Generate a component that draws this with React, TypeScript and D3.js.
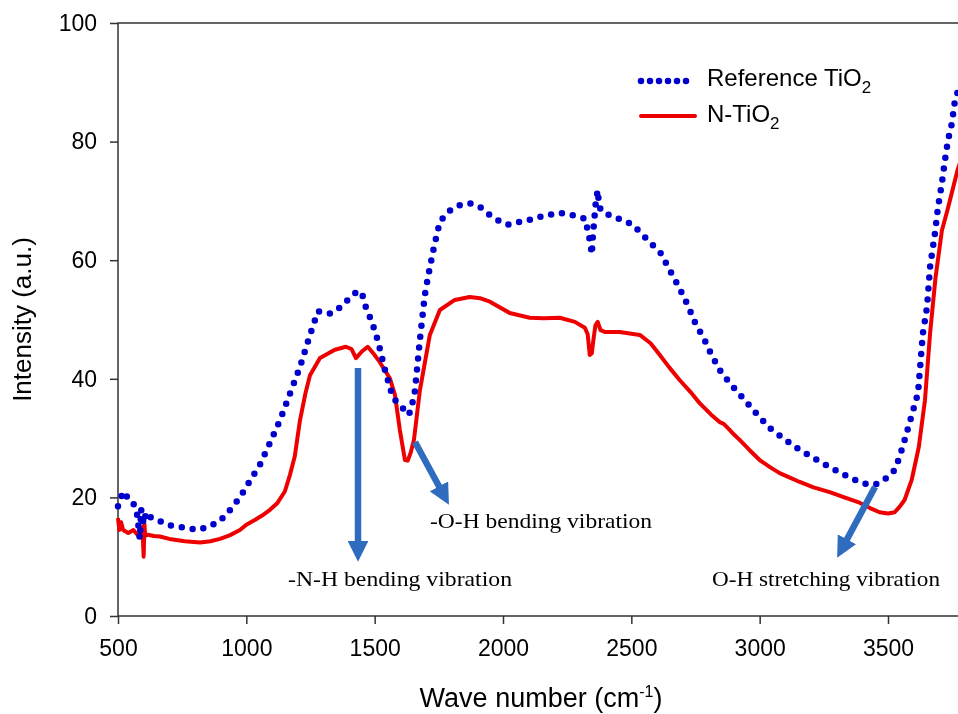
import * as d3 from "d3";
import { useEffect, useRef } from "react";

// Reference TiO2 (blue dotted)
const refWave = [500, 510, 527, 540, 560, 575, 585, 590, 600, 610, 630, 663, 700, 760, 810, 850, 897, 935, 975, 1010, 1053, 1090, 1131, 1170, 1209, 1245, 1279, 1305, 1325, 1350, 1384, 1410, 1435, 1450, 1462, 1490, 1512, 1540, 1571, 1610, 1633, 1645, 1657, 1676, 1695, 1707, 1730, 1754, 1790, 1832, 1870, 1910, 1949, 2000, 2026, 2060, 2104, 2160, 2221, 2290, 2320, 2340, 2346, 2350, 2356, 2362, 2369, 2375, 2390, 2416, 2462, 2505, 2564, 2614, 2650, 2685, 2720, 2747, 2786, 2813, 2844, 2883, 2922, 2980, 3039, 3100, 3156, 3220, 3273, 3330, 3389, 3428, 3460, 3487, 3526, 3545, 3565, 3590, 3617, 3636, 3652, 3664, 3683, 3695, 3710, 3722, 3734, 3749, 3761, 3780];
const refInt = [18.5, 20, 21, 19.5, 19, 17, 13, 18, 15.5, 17.5, 16.5, 16, 15.3, 14.9, 14.5, 15, 16, 17.8, 20, 22.5, 25.5, 29, 33, 37.5, 42, 47, 51.4, 51.2, 51, 51.5, 52.8, 54, 54.8, 54.5, 52.5, 49.5, 46.5, 41.5, 36.8, 35, 33.9, 35.5, 38, 46.5, 54, 57, 62, 66.5, 68.3, 69.3, 69.6, 69, 67.6, 66.2, 66, 66.4, 66.8, 67.5, 68, 67.4, 67, 63, 61, 64, 67, 70, 71.8, 69, 68, 67.6, 66.8, 66, 63.4, 61.2, 58.3, 55.5, 52.4, 49.6, 46.5, 44, 41.5, 39.3, 37.4, 34.5, 31.7, 29.7, 28, 26.4, 25.1, 23.8, 22.6, 22.1, 22.3, 23, 24.6, 26.8, 29.7, 33.5, 37.6, 47.7, 52.1, 58.9, 64.6, 69, 73, 76.9, 80.3, 83.1, 87, 89.5];

// N-TiO2 (red solid)
const nWave = [500, 505, 512, 520, 540, 560, 580, 595, 600, 603, 606, 615, 640, 663, 700, 760, 820, 860, 897, 935, 975, 1000, 1033, 1060, 1092, 1120, 1150, 1170, 1189, 1209, 1230, 1248, 1287, 1345, 1388, 1410, 1427, 1450, 1473, 1500, 1520, 1559, 1579, 1598, 1618, 1629, 1640, 1653, 1676, 1715, 1754, 1812, 1870, 1910, 1949, 2026, 2104, 2160, 2221, 2280, 2319, 2330, 2338, 2346, 2352, 2360, 2369, 2380, 2396, 2455, 2533, 2575, 2611, 2650, 2688, 2730, 2766, 2810, 2844, 2860, 2883, 2900, 2922, 2960, 3000, 3040, 3078, 3120, 3156, 3210, 3273, 3330, 3389, 3430, 3467, 3500, 3526, 3545, 3565, 3592, 3620, 3644, 3664, 3685, 3710, 3732, 3771, 3800];
const nInt = [16.5, 14.5, 15.8, 14.5, 14, 14.5, 13.5, 15, 10, 15.5, 13.5, 13.7, 13.5, 13.4, 13, 12.6, 12.4, 12.6, 13, 13.6, 14.5, 15.4, 16.2, 16.9, 17.9, 19, 21, 23.8, 27, 33, 37.5, 40.6, 43.5, 44.9, 45.4, 45, 43.5, 44.6, 45.4, 44, 42.8, 40.1, 37.3, 31.4, 26.3, 26.2, 27.5, 29.7, 38, 47.4, 51.6, 53.3, 53.8, 53.6, 53, 51.1, 50.3, 50.2, 50.3, 49.6, 48.6, 47.5, 44, 44.3, 46.5, 49, 49.6, 48.2, 47.9, 47.9, 47.4, 46, 44, 41.8, 39.8, 37.8, 35.9, 34, 32.7, 32.4, 31.4, 30.6, 29.7, 28, 26.3, 25.1, 24.1, 23.3, 22.6, 21.7, 20.9, 20, 19.1, 18.2, 17.5, 17.3, 17.5, 18.4, 19.6, 22.9, 28.5, 36.4, 47.7, 57, 65, 68.5, 75.2, 79];

const xTicks = [500, 1000, 1500, 2000, 2500, 3000, 3500];
const yTicks = [0, 20, 40, 60, 80, 100];

export default function App() {
  const svgRef = useRef<SVGSVGElement | null>(null);

  useEffect(() => {
    const width = 958;
    const height = 714;
    const margin = { top: 23, left: 118, bottom: 98 };
    const arrowColor = "#2f6cbf";
    const sans = "Liberation Sans, Arial, sans-serif";
    const serif = "Liberation Serif, Times New Roman, serif";

    const svg = d3.select(svgRef.current);
    svg.selectAll("*").remove();
    svg.attr("width", width).attr("height", height);

    const x = d3.scaleLinear().domain([500, 3800]).range([margin.left, 965]);
    const y = d3.scaleLinear().domain([0, 100]).range([height - margin.bottom, margin.top]);

    // frame
    svg
      .append("rect")
      .attr("x", x(500))
      .attr("y", y(100))
      .attr("width", x(3800) - x(500))
      .attr("height", y(0) - y(100))
      .attr("fill", "none")
      .attr("stroke", "#333")
      .attr("stroke-width", 1.5);

    const gx = svg
      .append("g")
      .attr("transform", `translate(0,${y(0)})`)
      .call(d3.axisBottom(x).tickValues(xTicks).tickSize(8).tickFormat(d3.format("d")));
    gx.select(".domain").remove();
    gx.selectAll("line").attr("stroke", "#333").attr("stroke-width", 1.5);
    gx.selectAll("text")
      .attr("font-family", sans)
      .attr("font-size", 23)
      .attr("fill", "#000")
      .attr("y", 40)
      .attr("dy", 0);

    const gy = svg
      .append("g")
      .attr("transform", `translate(${x(500)},0)`)
      .call(d3.axisLeft(y).tickValues(yTicks).tickSize(8));
    gy.select(".domain").remove();
    gy.selectAll("line").attr("stroke", "#333").attr("stroke-width", 1.5);
    gy.selectAll("text")
      .attr("font-family", sans)
      .attr("font-size", 23)
      .attr("fill", "#000")
      .attr("x", -21);

    // axis titles
    const xt = svg
      .append("text")
      .attr("x", 541)
      .attr("y", 707)
      .attr("text-anchor", "middle")
      .attr("font-family", sans)
      .attr("font-size", 27)
      .text("Wave number (cm");
    xt.append("tspan").attr("dy", -10).attr("font-size", 16).text("-1");
    xt.append("tspan").attr("dy", 10).text(")");

    svg
      .append("text")
      .attr("transform", `translate(31,${(y(0) + y(100)) / 2}) rotate(-90)`)
      .attr("text-anchor", "middle")
      .attr("font-family", sans)
      .attr("font-size", 26)
      .text("Intensity (a.u.)");

    const line = d3
      .line<[number, number]>()
      .x((d) => x(d[0]))
      .y((d) => y(d[1]));

    const nData: [number, number][] = nWave.map((w, i) => [w, nInt[i]]);
    const refData: [number, number][] = refWave.map((w, i) => [w, refInt[i]]);

    svg
      .append("path")
      .attr("d", line(nData))
      .attr("fill", "none")
      .attr("stroke", "#ee0000")
      .attr("stroke-width", 4)
      .attr("stroke-linejoin", "round");

    svg
      .append("path")
      .attr("d", line(refData))
      .attr("fill", "none")
      .attr("stroke", "#0000cc")
      .attr("stroke-width", 6.5)
      .attr("stroke-linecap", "round")
      .attr("stroke-dasharray", "0 11");

    // legend
    svg
      .append("line")
      .attr("x1", 641)
      .attr("x2", 693)
      .attr("y1", 81)
      .attr("y2", 81)
      .attr("stroke", "#0000cc")
      .attr("stroke-width", 6.5)
      .attr("stroke-linecap", "round")
      .attr("stroke-dasharray", "0 9");
    svg
      .append("line")
      .attr("x1", 641)
      .attr("x2", 695)
      .attr("y1", 116)
      .attr("y2", 116)
      .attr("stroke", "#ee0000")
      .attr("stroke-width", 4)
      .attr("stroke-linecap", "round");

    const legendText = [
      { label: "Reference TiO", y: 86 },
      { label: "N-TiO", y: 122 },
    ];
    legendText.forEach((l) => {
      const t = svg
        .append("text")
        .attr("x", 707)
        .attr("y", l.y)
        .attr("font-family", sans)
        .attr("font-size", 24)
        .text(l.label);
      t.append("tspan").attr("dy", 7).attr("font-size", 17).text("2");
    });

    // arrows
    const defs = svg.append("defs");
    defs
      .append("marker")
      .attr("id", "ah")
      .attr("viewBox", "0 0 10 10")
      .attr("refX", 2)
      .attr("refY", 5)
      .attr("markerWidth", 3.2)
      .attr("markerHeight", 3.2)
      .attr("orient", "auto")
      .append("path")
      .attr("d", "M0,0 L10,5 L0,10 Z")
      .attr("fill", arrowColor);

    const arrows = [
      { x1: 358, y1: 368, x2: 358, y2: 545 },
      { x1: 415, y1: 442, x2: 441, y2: 490 },
      { x1: 875, y1: 487, x2: 845, y2: 543 },
    ];
    svg
      .selectAll("line.arrow")
      .data(arrows)
      .join("line")
      .attr("class", "arrow")
      .attr("x1", (d) => d.x1)
      .attr("y1", (d) => d.y1)
      .attr("x2", (d) => d.x2)
      .attr("y2", (d) => d.y2)
      .attr("stroke", arrowColor)
      .attr("stroke-width", 6.5)
      .attr("marker-end", "url(#ah)");

    const notes = [
      { text: "-N-H bending vibration", x: 288, y: 586, len: 224 },
      { text: "-O-H bending vibration", x: 430, y: 528, len: 222 },
      { text: "O-H stretching vibration", x: 712, y: 586, len: 228 },
    ];
    svg
      .selectAll("text.note")
      .data(notes)
      .join("text")
      .attr("class", "note")
      .attr("x", (d) => d.x)
      .attr("y", (d) => d.y)
      .attr("font-family", serif)
      .attr("font-size", 22)
      .attr("textLength", (d) => d.len)
      .attr("lengthAdjust", "spacingAndGlyphs")
      .text((d) => d.text);
  }, []);

  return (
    <div style={{ position: "fixed", left: 0, top: 0, width: 958, height: 714, overflow: "hidden" }}>
      <svg ref={svgRef} style={{ display: "block" }}></svg>
    </div>
  );
}
